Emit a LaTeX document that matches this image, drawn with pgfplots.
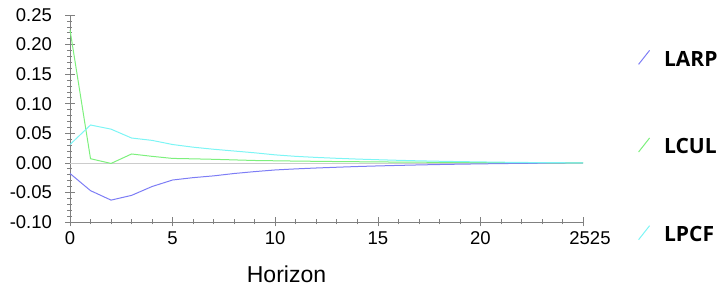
\documentclass[border=0pt]{standalone}
\usepackage{fontspec}
\setmainfont{Liberation Sans}
\newfontfamily\legfont{Open Sans}
\usepackage{pgfplots}
\pgfplotsset{compat=1.18}
\definecolor{larp}{RGB}{125,125,245}
\definecolor{lcul}{RGB}{125,240,125}
\definecolor{lpcf}{RGB}{125,245,245}
\begin{document}
\begin{tikzpicture}
\useasboundingbox (-70pt,-69pt) rectangle (650pt,222pt);
\begin{axis}[
  at={(0pt,0pt)}, anchor=south west,
  scale only axis, width=513pt, height=207pt,
  xmin=0, xmax=25, ymin=-0.10, ymax=0.25,
  axis lines*=left,
  axis line style={gray, line width=0.6pt},
  xtick={0,5,10,15,20,25},
  xticklabels={0,5,10,15,20,\hspace*{14pt}2525},
  ytick={-0.10,-0.05,0,0.05,0.10,0.15,0.20,0.25},
  yticklabels={-0.10,-0.05,0.00,0.05,0.10,0.15,0.20,0.25},
  minor x tick num=4,
  minor y tick num=4,
  tick align=center,
  major tick length=9pt, minor tick length=5pt,
  tick style={gray, line width=0.6pt},
  ticklabel style={font=\fontsize{18.5}{18.5}\selectfont},
  yticklabel style={xshift=-10pt},
  xticklabel style={yshift=-2pt},
  xlabel={Horizon},
  xlabel style={font=\fontsize{23}{23}\selectfont, at={(ticklabel cs:0.422)}, anchor=north, yshift=-14pt},
  legend style={draw=none, fill=none, at={(rel axis cs:1.107,0.362)}, anchor=west,
    font=\legfont\fontsize{21}{21}\selectfont\bfseries, row sep=67pt, column sep=12pt, inner sep=0pt},
  legend cell align=left,
  legend image code/.code={\draw[#1] (0pt,-5pt) -- (11pt,9pt);},
  clip=false,
]
\addplot[gray!40, line width=0.5pt, forget plot] coordinates {(0,0) (25,0)};
\addplot[larp, line width=1pt] coordinates {
(0,-0.018) (1,-0.047) (2,-0.063) (3,-0.055) (4,-0.040) (5,-0.029) (6,-0.025) (7,-0.022) (8,-0.018) (9,-0.0148) (10,-0.012) (11,-0.0102) (12,-0.0087) (13,-0.0074) (14,-0.0062) (15,-0.0052) (16,-0.0043) (17,-0.0035) (18,-0.0028) (19,-0.0022) (20,-0.0017) (21,-0.0012) (22,-0.0009) (23,-0.0006) (24,-0.0003) (25,0.0)
};
\addlegendentry{LARP}
\addplot[lcul, line width=1pt] coordinates {
(0,0.225) (1,0.007) (2,-0.001) (3,0.015) (4,0.011) (5,0.0075) (6,0.0068) (7,0.006) (8,0.005) (9,0.004) (10,0.0035) (11,0.003) (12,0.0026) (13,0.0022) (14,0.0019) (15,0.0016) (16,0.0013) (17,0.0011) (18,0.0009) (19,0.0007) (20,0.0005) (21,0.0004) (22,0.0003) (23,0.0002) (24,0.0001) (25,0.0)
};
\addlegendentry{LCUL}
\addplot[lpcf, line width=1pt] coordinates {
(0,0.031) (1,0.064) (2,0.057) (3,0.042) (4,0.038) (5,0.031) (6,0.0265) (7,0.023) (8,0.020) (9,0.017) (10,0.0135) (11,0.011) (12,0.0092) (13,0.0077) (14,0.0064) (15,0.0053) (16,0.0043) (17,0.0034) (18,0.0027) (19,0.0021) (20,0.0016) (21,0.0011) (22,0.0007) (23,0.0004) (24,0.0002) (25,0.0)
};
\addlegendentry{LPCF}
\end{axis}
\end{tikzpicture}
\end{document}
